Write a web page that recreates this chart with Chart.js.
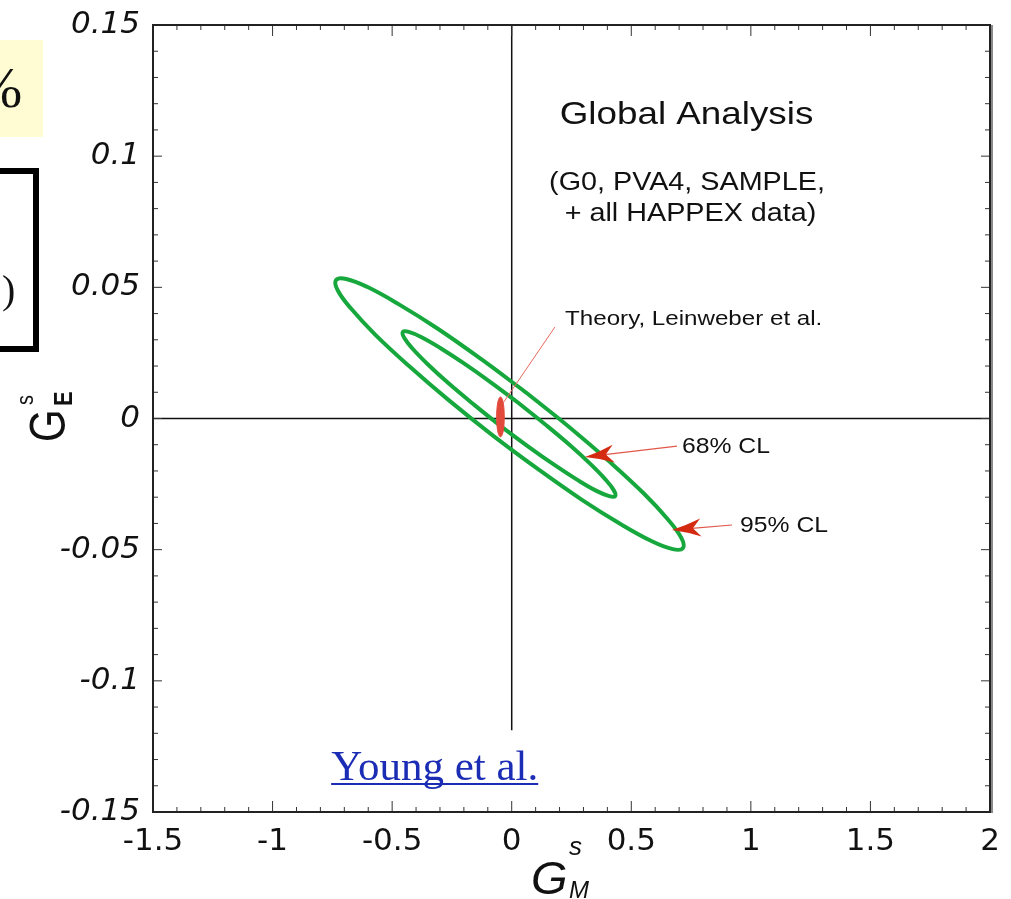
<!DOCTYPE html>
<html>
<head>
<meta charset="utf-8">
<title>Global Analysis GEs vs GMs</title>
<script src="https://cdn.jsdelivr.net/npm/chart.js@4.4.0/dist/chart.umd.min.js"></script>
<style>
  html, body { margin: 0; padding: 0; background: #fff; }
  #wrap { position: relative; width: 1011px; height: 899px; overflow: hidden; }
  #plot { position: absolute; left: 0; top: 0; }
  /* bits of the slide that are cut off at the left */
  .note { position: absolute; left: 0; top: 40px; width: 43px; height: 97px; background: #fffcd4; overflow: hidden; }
  .note span { position: absolute; left: -26px; top: 14px; font: 58px "Liberation Serif", serif; color: #111; }
  .box { position: absolute; left: -30px; top: 168px; width: 57px; height: 172px; border: 6px solid #000; overflow: hidden; }
  .box span { position: absolute; left: 26px; top: 92px; font: 40px "Liberation Serif", serif; color: #111; }
</style>
</head>
<body>
<div id="wrap">
  <canvas id="plot" width="1011" height="899"></canvas>
  <div class="note"><span>%</span></div>
  <div class="box"><span>)</span></div>
</div>
<script>
// axis ticks
var xTickValues = [-1.5, -1, -0.5, 0, 0.5, 1, 1.5, 2];
var xTickLabels = ['-1.5', '-1', '-0.5', '0', '0.5', '1', '1.5', '2'];
var yTickValues = [-0.15, -0.1, -0.05, 0, 0.05, 0.1, 0.15];
var yTickLabels = ['-0.15', '-0.1', '-0.05', '0', '0.05', '0.1', '0.15'];

// 95% CL contour (G_M^s, G_E^s)
var cl95X = [0.0599, -0.1302, -0.3121, -0.4732, -0.6027, -0.6919, -0.7345, -0.7277, -0.6719, -0.5710, -0.4317, -0.2636,
             -0.0783, 0.1118, 0.2937, 0.4548, 0.5843, 0.6735, 0.7161, 0.7093, 0.6535, 0.5526, 0.4133, 0.2452, 0.0599];
var cl95Y = [0.0099, 0.0228, 0.0344, 0.0436, 0.0501, 0.0532, 0.0528, 0.0489, 0.0419, 0.0320, 0.0202, 0.0070,
             -0.0065, -0.0194, -0.0310, -0.0402, -0.0467, -0.0498, -0.0494, -0.0455, -0.0385, -0.0286, -0.0168, -0.0036, 0.0099];

// 68% CL contour
var cl68X = [0.0258, -0.0904, -0.2011, -0.2989, -0.3770, -0.4304, -0.4551, -0.4496, -0.4142, -0.3513, -0.2653, -0.1620,
             -0.0484, 0.0678, 0.1785, 0.2763, 0.3544, 0.4078, 0.4325, 0.4270, 0.3916, 0.3287, 0.2427, 0.1394, 0.0258];
var cl68Y = [0.0061, 0.0140, 0.0211, 0.0269, 0.0310, 0.0330, 0.0330, 0.0308, 0.0266, 0.0207, 0.0135, 0.0056,
             -0.0027, -0.0106, -0.0177, -0.0235, -0.0276, -0.0296, -0.0296, -0.0274, -0.0232, -0.0173, -0.0101, -0.0022, 0.0061];

// theory (Leinweber et al.) region
var theoryX = [-0.031, -0.0331, -0.039, -0.047, -0.055, -0.0609, -0.063, -0.0609, -0.055, -0.047, -0.039, -0.0331, -0.031];
var theoryY = [0.0006, 0.0044, 0.0072, 0.0082, 0.0072, 0.0044, 0.0006, -0.0032, -0.0060, -0.0070, -0.0060, -0.0032, 0.0006];

function pts(xs, ys) {
    return xs.map(function(x, i) { return { x: x, y: ys[i] }; });
}

function label(ctx, txt, x, y, font, align, sx) {
    ctx.save();
    ctx.font = font;
    ctx.textAlign = align || 'left';
    ctx.textBaseline = 'alphabetic';
    ctx.translate(x, y);
    ctx.scale(sx || 1, 1);
    ctx.fillText(txt, 0, 0);
    ctx.restore();
}

function arrow(ctx, x1, y1, x2, y2) {
    var ang = Math.atan2(y2 - y1, x2 - x1);
    ctx.strokeStyle = '#e0584a';
    ctx.lineWidth = 1.2;
    ctx.beginPath();
    ctx.moveTo(x1, y1);
    ctx.lineTo(x2 - 20 * Math.cos(ang), y2 - 20 * Math.sin(ang));
    ctx.stroke();
    ctx.save();
    ctx.translate(x2, y2);
    ctx.rotate(ang);
    ctx.fillStyle = '#d42a12';
    ctx.beginPath();
    ctx.moveTo(0, 0);
    ctx.quadraticCurveTo(-14, -3, -29, -9);
    ctx.lineTo(-21, 0);
    ctx.lineTo(-29, 9);
    ctx.quadraticCurveTo(-14, 3, 0, 0);
    ctx.closePath();
    ctx.fill();
    ctx.restore();
}

//* frame, inside ticks, zero lines and all the labels
var decorations = {
    id: 'decorations',
    beforeDatasetsDraw: function(chart) {
        var ctx = chart.ctx, a = chart.chartArea, xs = chart.scales.x, ys = chart.scales.y;
        ctx.save();
        ctx.strokeStyle = '#111';
        ctx.lineWidth = 1.5;
        var x0 = xs.getPixelForValue(0), y0 = ys.getPixelForValue(0);
        ctx.beginPath();
        ctx.moveTo(a.left, y0);
        ctx.lineTo(a.right, y0);
        ctx.moveTo(x0, a.top);
        ctx.lineTo(x0, ys.getPixelForValue(-0.1188));
        ctx.stroke();

        ctx.lineWidth = 1;
        ctx.strokeStyle = '#333';
        ctx.beginPath();
        var i, v, px, len;
        for (i = 1; i < 35; i++) {
            v = -1.5 + i * 0.1;
            px = xs.getPixelForValue(v);
            len = (i % 5 === 0) ? 11 : 5;
            ctx.moveTo(px, a.bottom);
            ctx.lineTo(px, a.bottom - len);
            ctx.moveTo(px, a.top);
            ctx.lineTo(px, a.top + len);
        }
        for (i = 1; i < 30; i++) {
            v = -0.15 + i * 0.01;
            px = ys.getPixelForValue(v);
            len = (i % 5 === 0) ? 9 : 5;
            ctx.moveTo(a.left, px);
            ctx.lineTo(a.left + len, px);
            ctx.moveTo(a.right, px);
            ctx.lineTo(a.right - len, px);
        }
        ctx.stroke();
        ctx.restore();
    },
    afterDraw: function(chart) {
        var ctx = chart.ctx, a = chart.chartArea, xs = chart.scales.x, ys = chart.scales.y;
        var X = function(v) { return xs.getPixelForValue(v); };
        var Y = function(v) { return ys.getPixelForValue(v); };
        ctx.save();

        // frame
        ctx.strokeStyle = '#222';
        ctx.lineWidth = 2;
        ctx.strokeRect(a.left, a.top, a.right - a.left, a.bottom - a.top);
        ctx.strokeStyle = '#8a8a8a';
        ctx.lineWidth = 2;
        ctx.beginPath();
        ctx.moveTo(a.right + 2, a.top);
        ctx.lineTo(a.right + 2, a.bottom + 1);
        ctx.stroke();

        // theory leader line
        ctx.strokeStyle = '#e86a5e';
        ctx.lineWidth = 1;
        ctx.beginPath();
        ctx.moveTo(X(0.181), Y(0.0349));
        ctx.lineTo(X(-0.036), Y(0.0059));
        ctx.stroke();

        arrow(ctx, X(0.691), Y(-0.0105), X(0.306), Y(-0.0147));
        arrow(ctx, X(0.921), Y(-0.0406), X(0.670), Y(-0.0425));

        ctx.fillStyle = '#111';
        var sans = '"Liberation Sans", Arial, sans-serif';
        label(ctx, 'Global Analysis', X(0.731), Y(0.1123), '32px ' + sans, 'center', 1.15);
        label(ctx, '(G0, PVA4, SAMPLE,', X(0.733), Y(0.0871), '25px ' + sans, 'center', 1.15);
        label(ctx, ' + all HAPPEX data)', X(0.731), Y(0.0753), '25px ' + sans, 'center', 1.15);
        label(ctx, 'Theory, Leinweber et al.', X(0.223), Y(0.0357), '21px ' + sans, 'left', 1.15);
        label(ctx, '68% CL', X(0.712), Y(-0.0130), '21.5px ' + sans, 'left', 1.15);
        label(ctx, '95% CL', X(0.955), Y(-0.0433), '21.5px ' + sans, 'left', 1.15);

        // Young et al. link text
        ctx.fillStyle = '#1c2db5';
        ctx.font = '43px "Liberation Serif", serif';
        ctx.textAlign = 'left';
        ctx.textBaseline = 'alphabetic';
        var yx = X(-0.755), yy = Y(-0.1378);
        ctx.fillText('Young et al.', yx, yy);
        var w = ctx.measureText('Young et al.').width;
        ctx.fillRect(yx, yy + 3, w, 2);

        // x axis title  G_M^s
        ctx.fillStyle = '#111';
        label(ctx, 'G', 531, 894, 'italic 47px ' + sans, 'left');
        label(ctx, 's', 569, 855, 'italic 26px ' + sans, 'left');
        label(ctx, 'M', 569, 898, 'italic 24px ' + sans, 'left');

        // y axis title  G_E^s (rotated)
        ctx.save();
        ctx.translate(65, 442);
        ctx.rotate(-Math.PI / 2);
        ctx.scale(1, 1.2);
        ctx.textAlign = 'left';
        ctx.textBaseline = 'alphabetic';
        ctx.font = '42px ' + sans;
        ctx.fillText('G', 0, 0);
        ctx.font = 'bold 22px ' + sans;
        ctx.fillText('E', 36, 6);
        ctx.font = '20px ' + sans;
        ctx.fillText('s', 37, -27);
        ctx.restore();

        ctx.restore();
    }
};

var ctx = document.getElementById('plot').getContext('2d');
var chart = new Chart(ctx, {
    type: 'scatter',
    data: {
        datasets: [{
            label: 'Theory, Leinweber et al.',
            data: pts(theoryX, theoryY),
            showLine: true,
            tension: 0.4,
            borderColor: '#e2493b',
            borderWidth: 1,
            backgroundColor: '#e2493b',
            fill: 'shape',
            pointRadius: 0
        }, {
            label: '68% CL',
            data: pts(cl68X, cl68Y),
            showLine: true,
            tension: 0.4,
            borderColor: '#17a83d',
            borderWidth: 4,
            fill: false,
            pointRadius: 0
        }, {
            label: '95% CL',
            data: pts(cl95X, cl95Y),
            showLine: true,
            tension: 0.4,
            borderColor: '#17a83d',
            borderWidth: 4,
            fill: false,
            pointRadius: 0
        }]
    },
    options: {
        responsive: false,
        animation: false,
        devicePixelRatio: 1,
        layout: { padding: { left: 0, top: 25, right: 21, bottom: 0 } },
        plugins: {
            legend: { display: false },
            tooltip: { enabled: false }
        },
        scales: {
            x: {
                type: 'linear',
                min: -1.5,
                max: 2,
                grid: { display: false },
                border: { display: false },
                afterBuildTicks: function(s) { s.ticks = xTickValues.map(function(v) { return { value: v }; }); },
                afterFit: function(s) { s.height = 87; },
                ticks: {
                    padding: 3,
                    color: '#111',
                    maxRotation: 0,
                    autoSkip: false,
                    font: { family: '"DejaVu Sans"', size: 31 },
                    callback: function(value, index) { return xTickLabels[index]; }
                }
            },
            y: {
                type: 'linear',
                min: -0.15,
                max: 0.15,
                grid: { display: false },
                border: { display: false },
                afterBuildTicks: function(s) { s.ticks = yTickValues.map(function(v) { return { value: v }; }); },
                afterFit: function(s) { s.width = 153; },
                ticks: {
                    padding: 5,
                    color: '#111',
                    autoSkip: false,
                    font: { family: '"DejaVu Sans"', size: 31, style: 'italic' },
                    callback: function(value, index) { return yTickLabels[index]; }
                }
            }
        }
    },
    plugins: [decorations]
});
</script>
</body>
</html>
